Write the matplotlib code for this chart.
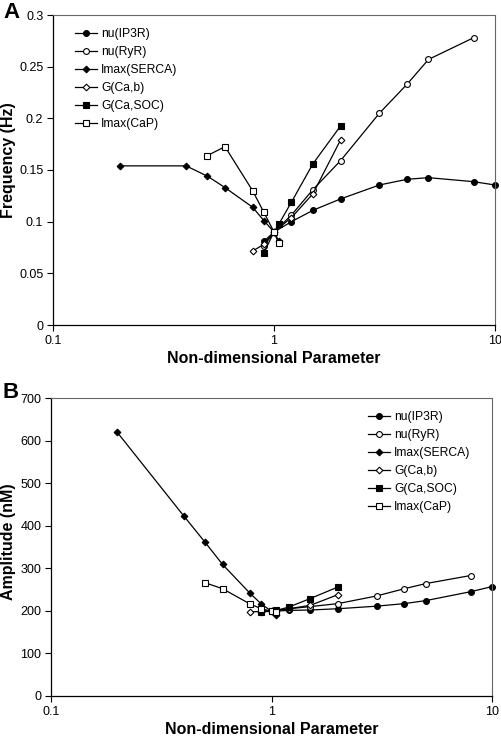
import numpy as np
import matplotlib
matplotlib.use('Agg')
import matplotlib.pyplot as plt
from matplotlib.ticker import FixedLocator, NullLocator, FixedFormatter

plt.rcParams['font.family'] = ['Liberation Sans', 'DejaVu Sans']

# Panel A: frequency (Hz)
ip3r_x = [0.9, 1.0, 1.2, 1.5, 2, 3, 4, 5, 8, 10]
ip3r_freq = [0.081, 0.090, 0.100, 0.111, 0.122, 0.1355, 0.141, 0.1426, 0.1387, 0.1355]
ryr_x = [0.9, 1.0, 1.2, 1.5, 2, 3, 4, 5, 8]
ryr_freq = [0.0765, 0.090, 0.1065, 0.131, 0.159, 0.205, 0.233, 0.257, 0.278]
serca_x = [0.2, 0.4, 0.5, 0.6, 0.8, 0.9, 1.0, 1.05]
serca_freq = [0.154, 0.154, 0.144, 0.133, 0.114, 0.101, 0.090, 0.0816]
gcab_x = [0.8, 0.9, 1.0, 1.2, 1.5, 2]
gcab_freq = [0.0716, 0.078, 0.090, 0.104, 0.127, 0.179]
gsoc_x = [0.9, 1.0, 1.05, 1.2, 1.5, 2]
gsoc_freq = [0.070, 0.090, 0.0974, 0.119, 0.156, 0.1926]
cap_x = [0.5, 0.6, 0.8, 0.9, 1.0, 1.05]
cap_freq = [0.164, 0.1726, 0.130, 0.109, 0.090, 0.079]

# Panel B: amplitude (nM)
ip3r_amp = [200, 199, 201, 202, 205, 211, 217, 224, 245, 257]
ryr_amp = [200, 199, 205, 210, 217, 235, 252, 264, 283]
serca_amp = [619, 423, 361, 309, 241, 216, 199, 191]
gcab_amp = [198, 198, 199, 205, 213, 238]
gsoc_amp = [198, 199, 201, 209, 229, 256]
cap_amp = [266, 252, 216, 205, 199, 197]

labels = ['nu(IP3R)', 'nu(RyR)', 'Imax(SERCA)', 'G(Ca,b)', 'G(Ca,SOC)', 'Imax(CaP)']
styles = [('o', 'black', 4.2), ('o', 'white', 4.2), ('D', 'black', 3.4),
          ('D', 'white', 3.4), ('s', 'black', 4.4), ('s', 'white', 4.0)]

xs = [ip3r_x, ryr_x, serca_x, gcab_x, gsoc_x, cap_x]
freqs = [ip3r_freq, ryr_freq, serca_freq, gcab_freq, gsoc_freq, cap_freq]
amps = [ip3r_amp, ryr_amp, serca_amp, gcab_amp, gsoc_amp, cap_amp]

W, H = 502, 738
fig = plt.figure(figsize=(W / 100, H / 100), dpi=100)
axA = fig.add_axes([53 / W, 1 - 325 / H, (495 - 53) / W, (325 - 15) / H])
axB = fig.add_axes([51 / W, 1 - 696 / H, (492 - 51) / W, (696 - 398) / H])


def draw(ax, ys, leg_x, leg_top):
    for x, y, lab, (m, fc, ms) in zip(xs, ys, labels, styles):
        ax.plot(x, y, color='black', lw=0.9, marker=m, markerfacecolor=fc,
                markeredgecolor='black', markeredgewidth=0.8, markersize=ms,
                label=lab, clip_on=False)
    ax.set_xscale('log')
    ax.set_xlim(0.1, 10)
    ax.xaxis.set_major_locator(FixedLocator([0.1, 1, 10]))
    ax.xaxis.set_major_formatter(FixedFormatter(['0.1', '1', '10']))
    ax.xaxis.set_minor_locator(NullLocator())
    ax.set_xlabel('Non-dimensional Parameter', fontsize=11.5, fontweight='bold', labelpad=3)
    ax.tick_params(direction='out', length=4, width=0.8, labelsize=9, pad=3)
    for side in ['top', 'right']:
        ax.spines[side].set_color('#666666')
        ax.spines[side].set_linewidth(0.8)
    for side in ['left', 'bottom']:
        ax.spines[side].set_linewidth(0.9)
    ax.legend(loc='upper left', bbox_to_anchor=(leg_x / W, 1 - leg_top / H),
              bbox_transform=fig.transFigure, frameon=False, fontsize=8.7,
              handlelength=1.8, handletextpad=0.35, labelspacing=0.5,
              borderpad=0, borderaxespad=0)


draw(axA, freqs, 75, 28)
axA.set_ylim(0, 0.3)
axA.set_yticks([0, 0.05, 0.1, 0.15, 0.2, 0.25, 0.3])
axA.set_yticklabels(['0', '0.05', '0.1', '0.15', '0.2', '0.25', '0.3'])
axA.set_ylabel('Frequency (Hz)', fontsize=11.5, fontweight='bold')
axA.yaxis.set_label_coords((16 - 53) / 442, 0.532)
fig.text(3 / W, 1 - 13 / H, 'A', fontsize=16, fontweight='bold', va='center')

draw(axB, amps, 368, 411)
axB.set_ylim(0, 700)
axB.set_yticks(range(0, 701, 100))
axB.set_ylabel('Amplitude (nM)', fontsize=11.5, fontweight='bold')
axB.yaxis.set_label_coords((16 - 51) / 441, 0.517)
fig.text(2 / W, 1 - 392 / H, 'B', fontsize=16, fontweight='bold', va='center')

fig.savefig('out.png', dpi=100)
